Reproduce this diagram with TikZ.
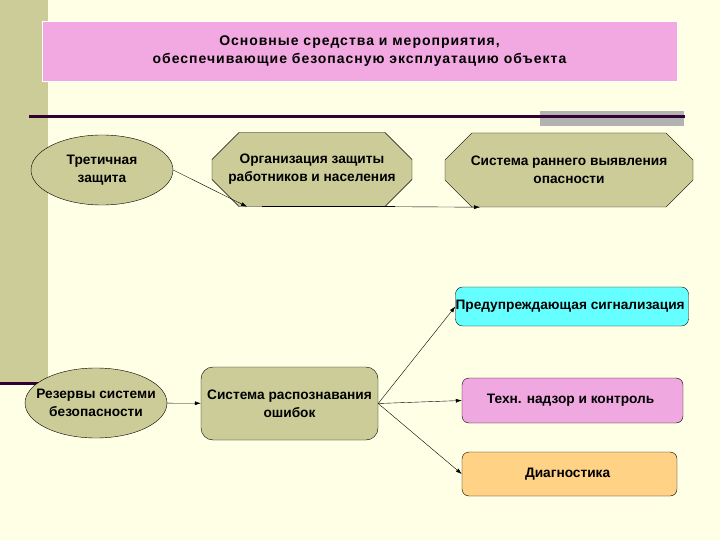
\documentclass[tikz,border=0pt]{standalone}
\usepackage{fontspec}
\setmainfont{Liberation Sans}
\newfontfamily\titlefont[LetterSpace=7]{Liberation Sans}
\usetikzlibrary{positioning, arrows.meta, shapes.geometric, shapes.misc, calc}

\definecolor{pagebg}{HTML}{FFFFE6}
\definecolor{olivefill}{HTML}{CCCC99}
\definecolor{titlepink}{HTML}{F2A8E0}
\definecolor{darkrule}{HTML}{330033}
\definecolor{grayblock}{HTML}{B2B2B2}
\definecolor{cyanfill}{HTML}{66FFFF}
\definecolor{pinkfill}{HTML}{F0A8E0}
\definecolor{orangefill}{HTML}{FFD285}

\begin{document}
\begin{tikzpicture}[
		x=1pt, y=-1pt,
		font=\fontsize{13.7}{18}\selectfont\bfseries,
		oval/.style={
			ellipse,
			draw,
			fill=olivefill,
			align=center,
			inner xsep=-12pt,
			inner ysep=0pt,
			minimum width=142pt,
			minimum height=70pt
		},
		octo/.style={
			chamfered rectangle,
			chamfered rectangle xsep=14pt,
			chamfered rectangle ysep=13pt,
			draw,
			fill=olivefill,
			align=center,
			inner sep=0pt,
			minimum height=74pt
		},
		box/.style={
			rectangle,
			rounded corners=7pt,
			draw,
			align=center,
			inner sep=0pt
		},
		arrow/.style={
			-{Latex[length=6pt,width=4pt]},
			thin
		}
		]
		
		% page
		\fill[pagebg] (0,0) rectangle (720,540);
		\useasboundingbox (0,0) rectangle (720,540);
		\fill[olivefill] (0,0) rectangle (48,382);
		\fill[darkrule] (0,381.5) rectangle (40,384.5);
		\fill[grayblock] (540,111) rectangle (684,126);
		\draw[darkrule, line width=3pt] (29,117) -- (685,117);
		
		\node[draw=white, fill=titlepink, align=center, minimum width=635pt, minimum height=60pt,
		font=\titlefont\fontsize{14}{18}\selectfont\bfseries] (title) at (359.5,51) {
			Основные средства и мероприятия,\\
			обеспечивающие безопасную эксплуатацию объекта
		};
		
		\node[oval] (tri) at (102,170) {Третичная\\защита};
		
		\node[octo, minimum width=200pt] (org) at (312,169.5) {
			Организация защиты\\
			работников и населения
		};
		
		\node[octo, minimum width=248pt] (sys) at (569,170) {
			Система раннего выявления\\
			опасности
		};
		
		\node[oval] (res) at (96,403) {Резервы системи\\безопасности};
		
		\node[box, fill=olivefill, rounded corners=12pt, minimum width=177pt, minimum height=73pt] (err) at (289.5,403.5) {
			Система распознавания\\
			ошибок
		};
		
		\node[box, fill=cyanfill, minimum width=232pt, minimum height=39pt] (warn) at (572,306.5) {
			Предупреждающая сигнализация
		};
		
		\node[box, fill=pinkfill, minimum width=221pt, minimum height=45pt] (tech) at (572.5,400.5) {
			Техн. надзор и контроль
		};
		
		\node[box, fill=orangefill, minimum width=215pt, minimum height=44pt] (diag) at (569.5,474) {
			Диагностика
		};
		
		\draw[arrow] (tri.east) -- ([xshift=-65pt]org.south);
		\draw[line width=1.6pt] ([xshift=-50pt]org.south) -- ([xshift=83pt]org.south);
		\draw[arrow] ([xshift=83pt]org.south) -- ([xshift=-89pt]sys.south);
		
		\draw[arrow] (res) -- (err);
		\draw[arrow] (err.east) -- (warn.west);
		\draw[arrow] (err.east) -- (tech.west);
		\draw[arrow] (err.east) -- (diag.west);
		
	\end{tikzpicture}
\end{document}
